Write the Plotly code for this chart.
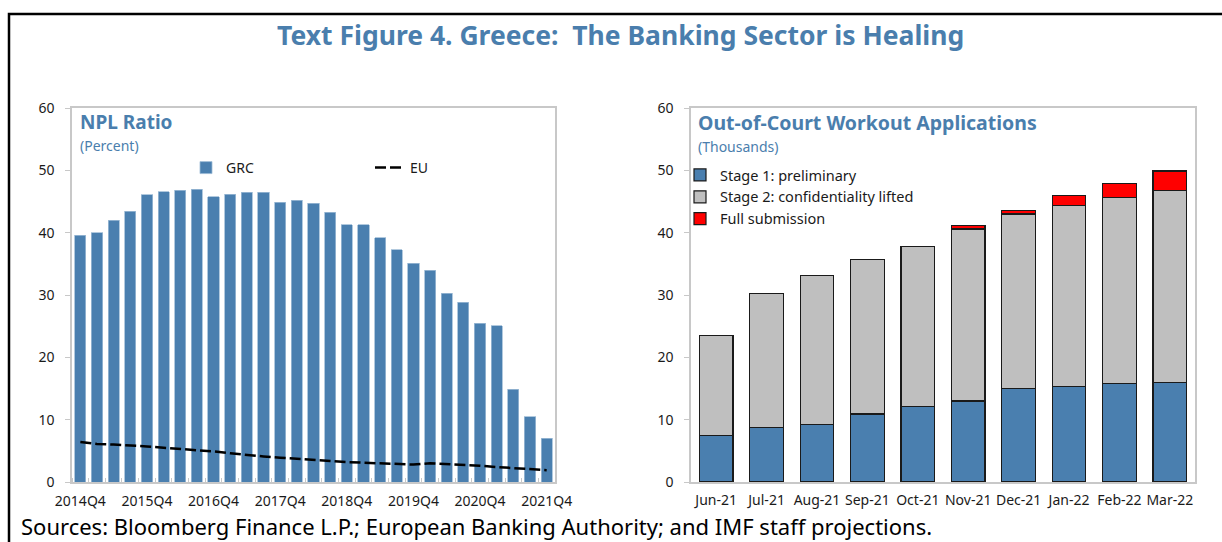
import plotly.graph_objects as go

# ---- data ----
quarters = ["2014Q4", "2015Q1", "2015Q2", "2015Q3", "2015Q4", "2016Q1", "2016Q2", "2016Q3",
            "2016Q4", "2017Q1", "2017Q2", "2017Q3", "2017Q4", "2018Q1", "2018Q2", "2018Q3",
            "2018Q4", "2019Q1", "2019Q2", "2019Q3", "2019Q4", "2020Q1", "2020Q2", "2020Q3",
            "2020Q4", "2021Q1", "2021Q2", "2021Q3", "2021Q4"]
grc_npl = [39.6, 40.0, 42.0, 43.4, 46.1, 46.6, 46.8, 47.0, 45.8, 46.2, 46.5, 46.5, 44.9, 45.2,
           44.7, 43.3, 41.3, 41.3, 39.2, 37.3, 35.1, 34.0, 30.3, 28.8, 25.5, 25.1, 14.9, 10.5, 7.0]
eu_npl = [6.4, 6.1, 6.0, 5.9, 5.7, 5.5, 5.3, 5.2, 4.9, 4.6, 4.3, 4.1, 3.9, 3.7, 3.5,
          3.35, 3.2, 3.1, 3.0, 2.9, 2.8, 3.0, 2.9, 2.8, 2.6, 2.4, 2.2, 2.1, 1.9]
year_ticks = ["2014Q4", "2015Q4", "2016Q4", "2017Q4", "2018Q4", "2019Q4", "2020Q4", "2021Q4"]

months = ["Jun-21", "Jul-21", "Aug-21", "Sep-21", "Oct-21", "Nov-21", "Dec-21", "Jan-22", "Feb-22", "Mar-22"]
stage1 = [7.5, 8.8, 9.2, 10.9, 12.1, 13.0, 15.0, 15.35, 15.8, 16.0]
stage2 = [16.0, 21.4, 23.9, 24.8, 25.7, 27.6, 28.0, 28.95, 29.9, 30.8]
full_sub = [0, 0, 0, 0, 0, 0.5, 0.6, 1.7, 2.2, 3.1]

BLUE = "#4A7FAF"
TITLE_BLUE = "#4A7EAD"
FONT = "Noto Sans"
W, H = 1222, 542

xi = list(range(len(quarters)))
tick_pos = [quarters.index(q) for q in year_ticks]

fig = go.Figure()

# left panel
fig.add_trace(go.Bar(x=xi, y=grc_npl, name="GRC", marker=dict(color=BLUE, line=dict(color="#9DBBD6", width=0.8)),
                     xaxis="x", yaxis="y", legend="legend"))
fig.add_trace(go.Scatter(x=xi, y=eu_npl, name="EU", mode="lines",
                         line=dict(color="black", width=2.5, dash="11px,4px"),
                         xaxis="x", yaxis="y", legend="legend"))

# right panel
fig.add_trace(go.Bar(x=months, y=stage1, name="Stage 1: preliminary",
                     marker=dict(color=BLUE, line=dict(color="#1a1a1a", width=1.2)), xaxis="x2", yaxis="y2", legend="legend2"))
fig.add_trace(go.Bar(x=months, y=stage2, name="Stage 2: confidentiality lifted",
                     marker=dict(color="#BFBFBF", line=dict(color="#1a1a1a", width=1.2)), xaxis="x2", yaxis="y2", legend="legend2"))
fig.add_trace(go.Bar(x=months, y=full_sub, name="Full submission",
                     marker=dict(color="#FF0000", line=dict(color="#1a1a1a", width=1.2)), xaxis="x2", yaxis="y2", legend="legend2"))

ydom = [1 - 482 / H, 1 - 108 / H]
axis_font = dict(family=FONT, size=14, color="#1a1a1a")
frame = dict(showline=True, linecolor="#C8C8C8", linewidth=1.5, mirror=True, showgrid=False, zeroline=False)

fig.update_layout(
    width=W, height=H, template="none",
    margin=dict(l=0, r=0, t=0, b=0),
    paper_bgcolor="white", plot_bgcolor="white",
    barmode="stack", bargap=0.33,
    font=dict(family=FONT, color="#1a1a1a"),
    xaxis=dict(domain=[72 / W, 555 / W], range=[-0.5, len(quarters) - 0.5], tickmode="array",
               tickvals=tick_pos, ticktext=year_ticks, ticks="", tickfont=axis_font, ticklabelstandoff=5,
               minor=dict(tick0=0.5, dtick=1, ticks="inside", ticklen=4, tickcolor="#C8C8C8"),
               automargin=False, **frame),
    yaxis=dict(domain=ydom, range=[0, 60], dtick=10, ticks="outside", ticklen=5, tickcolor="#C8C8C8",
               tickfont=axis_font, ticklabelstandoff=8, automargin=False, **frame),
    xaxis2=dict(domain=[691 / W, 1195 / W], anchor="y2", ticks="", tickfont=axis_font, ticklabelstandoff=4,
                automargin=False, **frame),
    yaxis2=dict(domain=ydom, anchor="x2", range=[0, 60], dtick=10, ticks="outside", ticklen=5,
                tickcolor="#C8C8C8", tickfont=axis_font, ticklabelstandoff=8, automargin=False, **frame),
    legend=dict(orientation="h", x=186 / W, y=1 - 168 / H, xanchor="left", yanchor="middle",
                traceorder="normal", entrywidth=139, font=dict(family=FONT, size=14),
                bgcolor="rgba(0,0,0,0)"),
    legend2=dict(orientation="v", x=680 / W, y=1 - 159 / H, xanchor="left", yanchor="top",
                 traceorder="normal", tracegroupgap=0, font=dict(family=FONT, size=14.5),
                 bgcolor="rgba(0,0,0,0)", itemwidth=30),
    showlegend=True,
)

fig.add_annotation(text="<b>Text Figure 4. Greece:  The Banking Sector is Healing</b>", xref="paper", yref="paper",
                   x=620 / W, y=1 - 35 / H, xanchor="center", yanchor="middle", showarrow=False,
                   font=dict(family=FONT, size=26.5, color=TITLE_BLUE))
fig.add_annotation(text="<b>NPL Ratio</b>", xref="paper", yref="paper", x=78 / W, y=1 - 122 / H,
                   xanchor="left", yanchor="middle", showarrow=False, font=dict(family=FONT, size=19, color=TITLE_BLUE))
fig.add_annotation(text="(Percent)", xref="paper", yref="paper", x=78 / W, y=1 - 145 / H,
                   xanchor="left", yanchor="middle", showarrow=False, font=dict(family=FONT, size=14, color=TITLE_BLUE))
fig.add_annotation(text="<b>Out-of-Court Workout Applications</b>", xref="paper", yref="paper", x=696 / W, y=1 - 122 / H,
                   xanchor="left", yanchor="middle", showarrow=False, font=dict(family=FONT, size=19.5, color=TITLE_BLUE))
fig.add_annotation(text="(Thousands)", xref="paper", yref="paper", x=696 / W, y=1 - 146 / H,
                   xanchor="left", yanchor="middle", showarrow=False, font=dict(family=FONT, size=14, color=TITLE_BLUE))
fig.add_annotation(text="Sources: Bloomberg Finance L.P.; European Banking Authority; and IMF staff projections.",
                   xref="paper", yref="paper", x=19 / W, y=1 - 526 / H, xanchor="left", yanchor="middle",
                   showarrow=False, font=dict(family=FONT, size=22, color="black"))

# outer frame of the figure box (right edge runs off the page as in the reference)
fig.add_shape(type="rect", xref="paper", yref="paper", x0=9 / W, x1=1.02, y0=-0.05, y1=1 - 14 / H,
              line=dict(color="black", width=2.5), fillcolor="rgba(0,0,0,0)", layer="below")

# drop the browser's default body margin so the figure sits at the page corner
fig.write_html("out.html", config={"displayModeBar": False},
               post_script="document.body.style.margin='0';")
